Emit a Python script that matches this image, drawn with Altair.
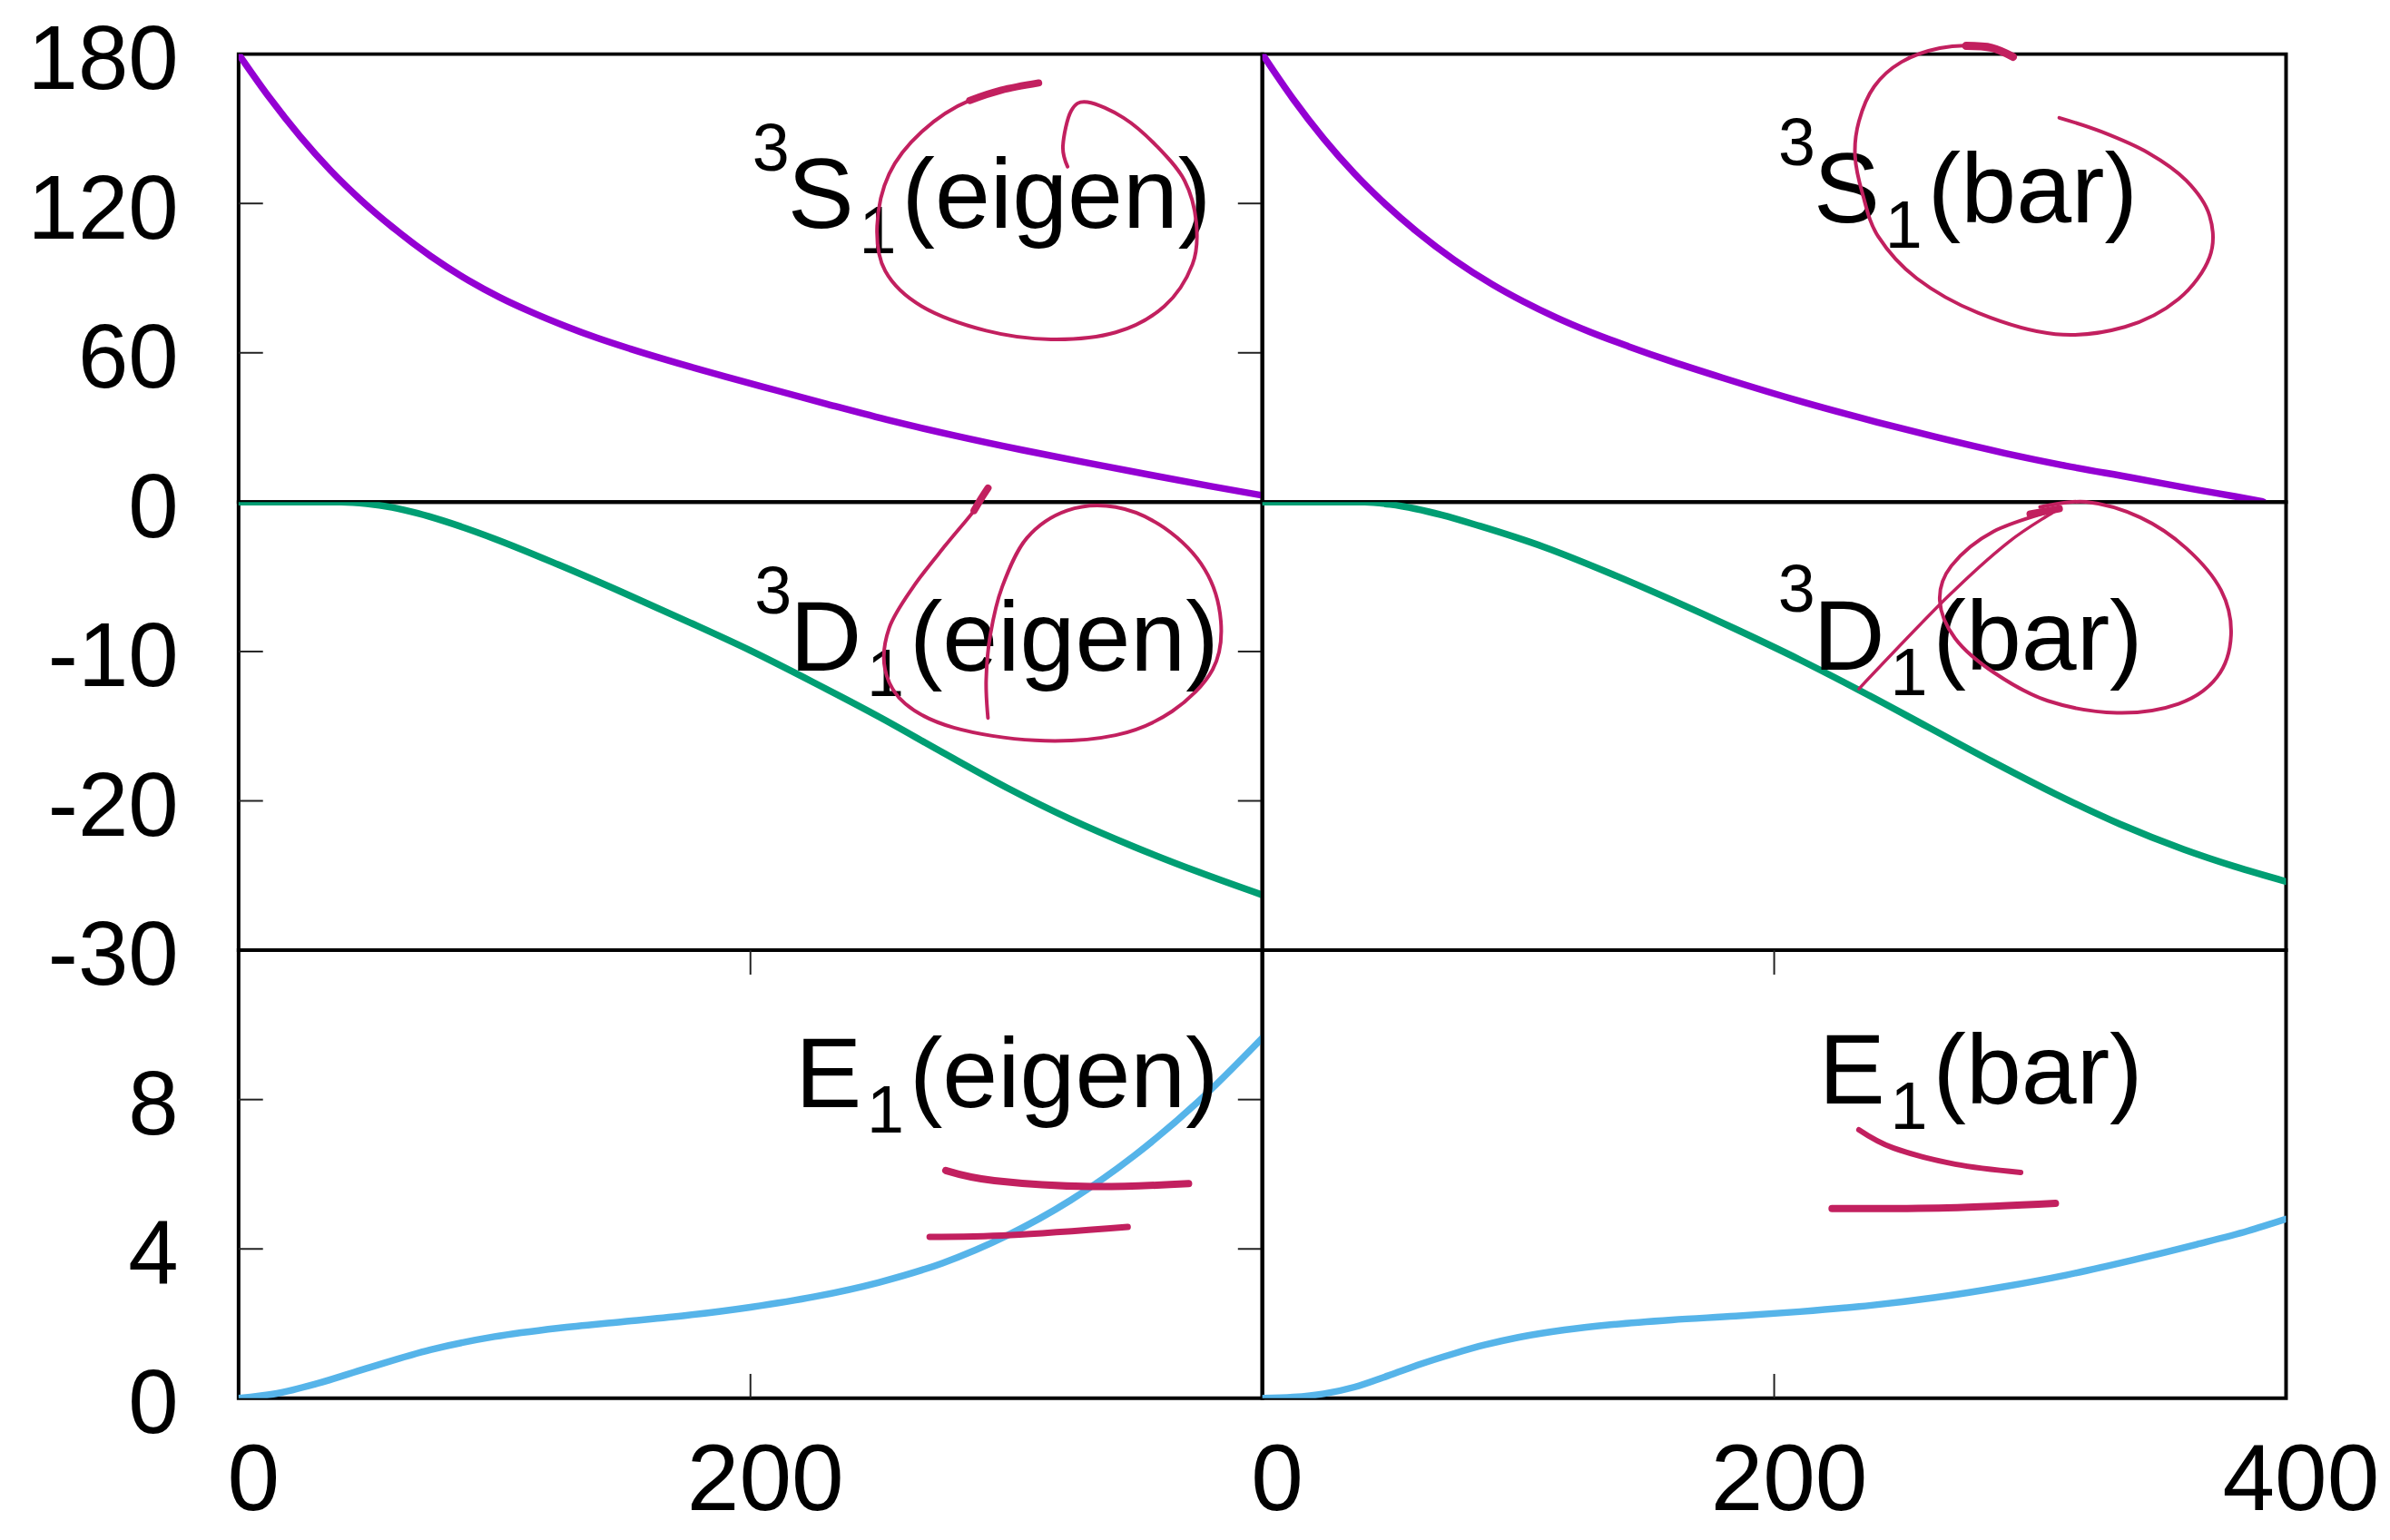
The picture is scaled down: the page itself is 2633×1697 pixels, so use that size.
import altair as alt
import pandas as pd

# ---------------- data ----------------
# 3S1 phase shifts (deg)
S_EIG_X = [0, 12, 24, 36, 48, 60, 75, 90, 102, 115, 128, 140, 153, 170, 190, 204, 230, 255, 280, 306, 330, 357, 380, 400]
S_EIG_Y = [180, 162.6, 147, 133.2, 121.2, 110.6, 98.9, 89, 82.3, 76.1, 70.6, 66, 61.6, 56.3, 50.5, 46.6, 39.4, 32.7, 26.7, 21, 16.1, 10.8, 6.4, 2.7]
S_BAR_X = [0, 12, 24, 36, 48, 60, 75, 90, 102, 115, 128, 143, 160, 180, 212, 240, 263, 290, 314, 340, 365, 380, 391]
S_BAR_Y = [180, 162, 146, 132, 119.8, 109, 97.3, 87.4, 80.6, 74.1, 68.4, 62.6, 56.5, 49.9, 40, 32.2, 26.2, 19.7, 14.6, 9.8, 5.0, 2.3, 0.2]
# 3D1 phase shifts (deg)
D_EIG_X = [0, 40, 50, 60, 70, 80, 100, 125, 150, 175, 200, 225, 250, 275, 300, 325, 350, 375, 400]
D_EIG_Y = [0, 0, -0.1, -0.35, -0.75, -1.25, -2.45, -4.19, -6.04, -7.96, -9.94, -12.1, -14.35, -16.75, -19.1, -21.22, -23.08, -24.76, -26.3]
D_BAR_X = [0, 40, 50, 60, 70, 85, 110, 135, 160, 185, 210, 235, 260, 285, 310, 335, 360, 380, 400]
D_BAR_Y = [0, 0, -0.15, -0.45, -0.85, -1.6, -3.0, -4.7, -6.55, -8.5, -10.55, -12.75, -15.05, -17.35, -19.55, -21.55, -23.25, -24.4, -25.4]
# E1 mixing parameter (deg)
E_EIG_X = [0, 15, 30, 50, 75, 100, 125, 150, 175, 200, 225, 250, 275, 300, 325, 350, 375, 400]
E_EIG_Y = [0, 0.13, 0.38, 0.8, 1.3, 1.65, 1.88, 2.05, 2.22, 2.44, 2.72, 3.1, 3.62, 4.35, 5.3, 6.5, 7.95, 9.65]
E_BAR_X = [0, 12, 24, 36, 49, 62, 75, 87, 100, 118, 136, 160, 185, 210, 238, 263, 289, 314, 340, 365, 385, 400]
E_BAR_Y = [0, 0.03, 0.12, 0.3, 0.6, 0.92, 1.2, 1.43, 1.63, 1.83, 1.97, 2.1, 2.2, 2.32, 2.49, 2.7, 2.98, 3.3, 3.7, 4.12, 4.48, 4.8]

# axis label values and inner tick values per row
Y_DOMAINS = [[0, 180], [-30, 0], [0, 12]]
Y_LABELS = [[0, 60, 120, 180], [-10, -20, -30], [0, 4, 8]]
Y_TICKS = [[60, 120], [-10, -20], [4, 8]]
X_LABELS = [[0, 200], [0, 200, 400]]
X_TICKS = [200]

# panel labels
LABEL_SUP = ["3", "3", "3", "3", "", ""]
LABEL_MAIN = ["S", "S", "D", "D", "E", "E"]
LABEL_SUB = ["1", "1", "1", "1", "1", "1"]
LABEL_TAIL = ["(eigen)", "(bar)", "(eigen)", "(bar)", "(eigen)", "(bar)"]
LABEL_X = [380, 342, 383, 344, 383, 344]
LABEL_Y = [110.1, 112.3, -11.3, -11.2, 7.8, 7.9]

# hand-drawn annotation strokes (panel index, stroke width, x list, y list)
SCRIBBLES = [
    (0, 4, [312.6, 285.7, 266.9, 254.2, 249.5, 252.7, 266.9, 292.1, 317.5, 342.7, 361.7, 372.7, 374.2, 369.6, 358.6, 345.8, 331.7, 325.3, 322.1, 323.9],
           [168.4, 161.4, 148.8, 131.9, 110.9, 92.8, 78.7, 68.9, 65.4, 68.2, 78.7, 95.5, 112.3, 129.2, 143.2, 154.4, 160.7, 157.2, 143.2, 134.8]),
    (0, 8, [312.6, 298.0, 285.7], [168.4, 165.5, 161.4]),
    (1, 4, [293.3, 279.8, 264.7, 249.7, 239.1, 233.1, 231.6, 234.6, 240.6, 255.7, 279.8, 309.9, 337.0, 358.0, 370.1, 370.1, 361.0, 346.0, 327.9, 311.4],
           [178.9, 183.1, 182.4, 176.8, 167.0, 153.0, 139.0, 123.6, 106.8, 89.9, 76.0, 67.5, 70.4, 81.6, 98.4, 115.1, 129.2, 140.4, 148.8, 154.4]),
    (1, 9, [293.3, 285.0, 275.0], [178.9, 182.5, 183.3]),
    (2, 4, [292.8, 287.4, 276.3, 263.7, 254.2, 252.6, 260.5, 279.5, 311.1, 342.7, 364.8, 380.6, 383.8, 377.5, 361.7, 342.7, 323.7, 308.0, 298.4, 293.7, 292.1, 292.8],
           [0.94, -0.56, -2.87, -5.65, -8.43, -11.2, -13.5, -15.1, -15.95, -15.6, -14.0, -11.2, -7.97, -4.5, -1.72, -0.33, -0.56, -2.4, -5.65, -8.9, -11.9, -14.45]),
    (2, 8, [292.8, 290.0, 287.4], [0.94, 0.2, -0.56]),
    (3, 3.5, [233.1, 267.7, 291.8, 311.4], [-12.5, -6.35, -2.64, -0.44]),
    (3, 4, [311.4, 285.8, 269.2, 264.7, 270.7, 285.8, 306.9, 333.9, 358.0, 373.1, 378.5, 374.6, 361.1, 343.0, 321.9, 303.9],
           [-0.44, -1.95, -4.27, -6.58, -9.12, -11.4, -13.3, -14.1, -13.5, -11.7, -8.9, -5.9, -3.1, -1.02, 0.02, -0.33]),
    (3, 8, [300.0, 311.4], [-0.8, -0.44]),
    (4, 8, [276.3, 295.3, 333.2, 371.2], [6.1, 5.83, 5.67, 5.75]),
    (4, 7, [270.0, 301.6, 347.4], [4.32, 4.37, 4.59]),
    (5, 6, [233.1, 246.7, 270.7, 296.3], [7.19, 6.7, 6.27, 6.05]),
    (5, 8, [222.6, 267.7, 309.9], [5.08, 5.1, 5.22]),
]

CURVES = [
    (S_EIG_X, S_EIG_Y, "#9400D3"), (S_BAR_X, S_BAR_Y, "#9400D3"),
    (D_EIG_X, D_EIG_Y, "#009E73"), (D_BAR_X, D_BAR_Y, "#009E73"),
    (E_EIG_X, E_EIG_Y, "#56B4E9"), (E_BAR_X, E_BAR_Y, "#56B4E9"),
]

# ---------------- styling ----------------
FONT = "Liberation Sans"
W, H = 1133, 496
TICK_LEN = 27
MAIN_FS = 110
SUB_FS = 74
SCRIBBLE_COLOR = "#C2205F"
AW = {"(": 333, ")": 333, "e": 556, "i": 222, "g": 556, "n": 556, "b": 556,
      "a": 556, "r": 333, "S": 667, "D": 722, "E": 667, "1": 556, "3": 556}
HYPHEN_LABEL = "(datum.value < 0 ? '-' : '') + abs(datum.value)"


def panel(idx):
    row, col = divmod(idx, 2)
    xs, ys, color = CURVES[idx]
    xscale = alt.Scale(domain=[0, 400], nice=False, zero=False)
    yscale = alt.Scale(domain=Y_DOMAINS[row], nice=False, zero=False)
    if row == 2:
        xaxis = alt.Axis(values=X_LABELS[col], title=None, ticks=False, tickSize=0, domain=False,
                         grid=False, labelPadding=41, labelOffset=16, labelFlush=False,
                         labelOverlap=False, labelBound=False, labelFontSize=104)
    else:
        xaxis = None
    if col == 0:
        yaxis = alt.Axis(values=Y_LABELS[row], title=None, ticks=False, tickSize=0, domain=False,
                         grid=False, labelPadding=67, labelOffset=8, labelFlush=False,
                         labelOverlap=False, labelBound=False, labelBaseline="middle",
                         labelExpr=HYPHEN_LABEL)
    else:
        yaxis = None

    def X(f="x"):
        return alt.X(f + ":Q", scale=xscale, axis=xaxis)

    def Y(f="y"):
        return alt.Y(f + ":Q", scale=yscale, axis=yaxis)

    layers = []
    # inner tick marks
    if col == 0:
        tdf = pd.DataFrame({"y": Y_TICKS[row]})
        for a, b in [(0, TICK_LEN), (W - TICK_LEN, W)]:
            layers.append(alt.Chart(tdf).mark_rule(color="#222222", strokeWidth=2).encode(
                y=Y(), x=alt.value(a), x2=alt.value(b)))
    if row == 2:
        tdf = pd.DataFrame({"x": X_TICKS})
        for a, b in [(H, H - TICK_LEN), (0, TICK_LEN)]:
            layers.append(alt.Chart(tdf).mark_rule(color="#222222", strokeWidth=2).encode(
                x=X(), y=alt.value(a), y2=alt.value(b)))
    # data curve
    cdf = pd.DataFrame({"x": xs, "y": ys})
    layers.append(alt.Chart(cdf).mark_line(color=color, strokeWidth=7.5, interpolate="monotone",
                                           clip=True, strokeCap="round").encode(x=X(), y=Y()))
    # label
    ldf = pd.DataFrame({"x": [LABEL_X[idx]], "y": [LABEL_Y[idx]]})
    base = alt.Chart(ldf).encode(x=X(), y=Y())
    tail = LABEL_TAIL[idx]
    wt = sum(AW[c] for c in tail) * MAIN_FS / 1000.0
    common = dict(align="right", baseline="alphabetic", font=FONT, color="black")
    layers.append(base.mark_text(text=tail, fontSize=MAIN_FS, dx=0, **common))
    layers.append(base.mark_text(text=LABEL_SUB[idx], fontSize=SUB_FS, dx=-(wt + 6), dy=28, **common))
    sdx = -(wt + 53)
    main = LABEL_MAIN[idx]
    layers.append(base.mark_text(text=main, fontSize=MAIN_FS, dx=sdx, **common))
    if LABEL_SUP[idx]:
        wm = AW[main] * MAIN_FS / 1000.0
        layers.append(base.mark_text(text=LABEL_SUP[idx], fontSize=SUB_FS, dx=sdx - wm + 2, dy=-64, **common))
    # annotation strokes
    for p, sw, sx, sy in SCRIBBLES:
        if p != idx:
            continue
        sdf = pd.DataFrame({"x": sx, "y": sy, "i": list(range(len(sx)))})
        layers.append(alt.Chart(sdf).mark_line(color=SCRIBBLE_COLOR, strokeWidth=sw, interpolate="cardinal",
                                               clip=False, strokeCap="round", strokeJoin="round").encode(
            x=X(), y=Y(), order="i:Q"))
    return alt.layer(*layers).properties(width=W, height=H)


panels = [panel(i) for i in range(6)]

chart = alt.concat(*panels, columns=2, spacing=0, bounds="flush").properties(
    padding={"left": 20, "top": 4, "right": 2, "bottom": 0},
    background="white",
).configure_view(
    stroke="black", strokeWidth=4
).configure_axis(
    labelFont=FONT, labelFontSize=100, labelColor="black"
)

chart.save("out.html", embed_options={"renderer": "svg", "actions": False})
